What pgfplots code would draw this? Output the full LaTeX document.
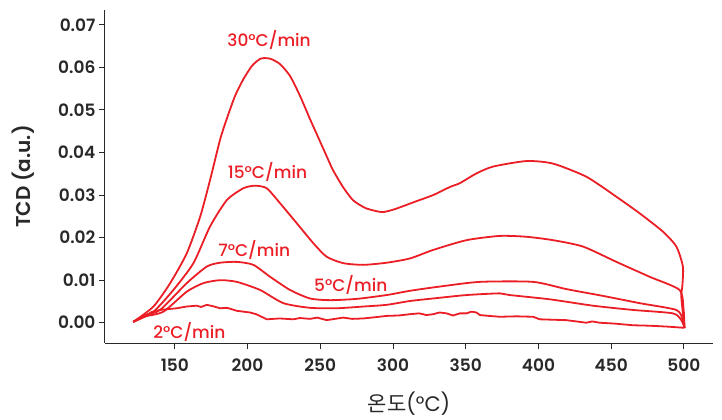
\documentclass[border=0pt]{standalone}
\usepackage{pgfplots}
\pgfplotsset{compat=1.18}
\usepackage{fontspec}
\setmainfont{Poppins}[BoldFont={Poppins SemiBold}]
\newfontfamily\pmed{Poppins Medium}
\newfontfamily\kor{Noto Sans CJK KR}
\definecolor{cred}{RGB}{235,30,38}
\definecolor{axgray}{RGB}{40,40,40}
\begin{document}
\begin{tikzpicture}
\begin{axis}[
  scale only axis, width=608pt, height=333pt,
  xmin=102, xmax=520, ymin=-0.00477, ymax=0.0735,
  axis lines*=left, axis line style={axgray, line width=1pt},
  tick align=outside, major tick length=6pt, tick style={axgray, line width=1pt},
  xtick={150,200,...,500},
  ytick={0,0.01,...,0.07},
  yticklabel style={/pgf/number format/.cd, fixed, fixed zerofill, precision=2, assume math mode=true},
  xticklabel style={/pgf/number format/assume math mode=true, yshift=-6pt},
  ticklabel style={font=\fontsize{17}{19}\selectfont\bfseries, text=axgray},
  scaled y ticks=false,
  ylabel={\bfseries TCD (a.u.)},
  ylabel style={font=\fontsize{20}{22}\selectfont, text=axgray, at={(axis description cs:-0.134,0.5)}, anchor=center, rotate=0},
  xlabel={{\kor 온도}(°C)},
  xlabel style={font=\fontsize{21}{23}\selectfont, text=axgray, at={(axis description cs:0.5,-0.183)}, anchor=center},
  every axis plot post/.append style={cred, line width=1.8pt, mark=none, line join=round},
  clip=false,
]
% 30 C/min
\addplot[smooth, tension=0.4] table {
121.4 0.0002
135.3 0.0038
146.8 0.0093
158.2 0.0163
167.4 0.0249
174.2 0.0335
181.1 0.0430
185.9 0.0481
191.4 0.0533
196.9 0.0571
203.1 0.0604
208.6 0.0620
212.0 0.0622
216.1 0.0620
222.3 0.0608
229.2 0.0580
236.1 0.0533
242.9 0.0479
248.4 0.0437
253.9 0.0395
258.7 0.0359
265.6 0.0319
272.5 0.0288
280.7 0.0270
287.6 0.0263
293.1 0.0260
301.3 0.0267
316.4 0.0286
327.6 0.0300
339.1 0.0319
346.0 0.0328
357.4 0.0351
368.8 0.0367
391.8 0.0380
410.0 0.0374
433.0 0.0343
453.6 0.0296
469.6 0.0257
485.6 0.0214
494.8 0.0179
499.3 0.0132
498.9 0.0085
498.2 0.0061
500.4 -0.0013
};
% 15 C/min
\addplot[smooth, tension=0.4] table {
121.4 0.0002
135.3 0.0026
149.0 0.0077
162.8 0.0140
174.2 0.0226
185.7 0.0288
197.1 0.0316
205.1 0.0322
213.2 0.0316
222.3 0.0281
233.8 0.0234
245.2 0.0187
254.4 0.0155
265.8 0.0140
279.5 0.0136
295.6 0.0141
311.6 0.0151
327.6 0.0171
350.5 0.0194
373.4 0.0204
391.8 0.0202
410.0 0.0194
430.6 0.0179
453.6 0.0143
476.4 0.0108
497.0 0.0077
499.8 0.0030
500.4 -0.0012
};
% 7 C/min
\addplot[smooth, tension=0.4] table {
121.4 0.0002
129.6 0.0018
139.9 0.0030
158.2 0.0093
172.0 0.0132
181.1 0.0141
192.6 0.0143
204.0 0.0136
215.5 0.0108
229.2 0.0077
242.9 0.0057
256.7 0.0053
275.0 0.0056
295.6 0.0065
311.6 0.0075
332.2 0.0085
359.7 0.0096
396.3 0.0096
419.2 0.0079
444.4 0.0063
469.5 0.0046
494.8 0.0030
499.3 0.0006
500.4 -0.0012
};
% 5 C/min
\addplot[smooth, tension=0.4] table {
121.4 0.0002
130.0 0.0015
142.2 0.0026
158.2 0.0073
169.6 0.0093
181.1 0.0100
192.6 0.0096
208.6 0.0077
224.6 0.0046
242.9 0.0035
261.3 0.0034
279.5 0.0038
295.6 0.0042
311.6 0.0051
327.6 0.0057
350.5 0.0065
373.4 0.0069
380.3 0.0065
407.8 0.0055
437.5 0.0040
465.0 0.0030
492.4 0.0022
498.2 0.0006
500.4 -0.0012
};
% 2 C/min
\addplot[line width=1.6pt] table {
121.4 0.0002
128.4 0.0014
134.0 0.0025
139.9 0.0030
151.4 0.0034
158.0 0.0038
165.1 0.0040
168.0 0.0037
172.0 0.0042
176.0 0.0039
181.1 0.0034
186.0 0.0035
192.6 0.0028
201.7 0.0024
206.0 0.0020
213.2 0.0008
222.0 0.0010
231.5 0.0008
236.0 0.0011
242.9 0.0009
248.0 0.0012
254.4 0.0006
260.0 0.0009
265.8 0.0012
272.0 0.0009
279.5 0.0010
288.0 0.0013
295.6 0.0016
304.0 0.0017
311.6 0.0020
318.0 0.0022
323.0 0.0018
327.6 0.0020
332.0 0.0024
336.8 0.0022
341.3 0.0017
346.0 0.0022
350.5 0.0022
354.0 0.0026
357.4 0.0024
359.7 0.0018
366.0 0.0016
373.4 0.0014
385.0 0.0015
396.3 0.0014
400.9 0.0008
410.0 0.0007
419.2 0.0006
426.0 0.0003
432.9 0.0000
437.0 0.0003
442.1 0.0000
452.0 -0.0002
465.0 -0.0006
476.0 -0.0007
487.9 -0.0009
500.4 -0.0012
};
\begin{scope}[every node/.style={text=cred, font=\pmed\fontsize{17}{19}\selectfont, anchor=center}]
\node at (axis cs:214.8,0.0665) {30°C/min};
\node at (axis cs:213.7,0.0355) {15°C/min};
\node at (axis cs:204.6,0.0171) {7°C/min};
\node at (axis cs:271,0.0089) {5°C/min};
\node at (axis cs:160,-0.0021) {2°C/min};
\end{scope}
\end{axis}
\path (current axis.south west) ++(-105pt,-74pt) rectangle ++(722pt,417pt);
\end{tikzpicture}
\end{document}
